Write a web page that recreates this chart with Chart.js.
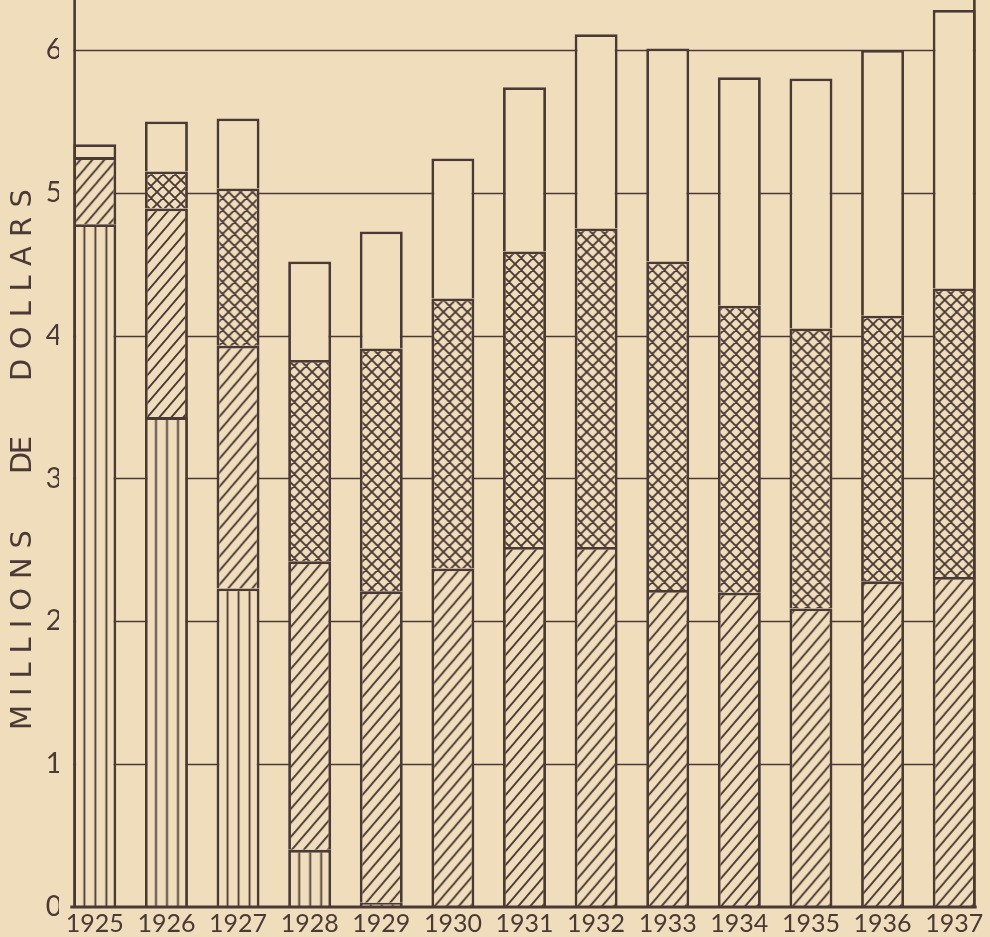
<!DOCTYPE html>
<html>
<head>
<meta charset="utf-8">
<script src="https://cdn.jsdelivr.net/npm/chart.js@4"></script>
<style>
  html, body { margin: 0; padding: 0; background: #f0ddbc; }
  canvas { display: block; }
</style>
</head>
<body>
<canvas id="chart" width="990" height="937"></canvas>
<script>
// years and the four stacked parts of each bar (millions de dollars), bottom to top
const years = ["1925", "1926", "1927", "1928", "1929", "1930", "1931", "1932", "1933", "1934", "1935", "1936", "1937"];
const verticalPart = [4.78, 3.43, 2.23, 0.40, 0.03, 0, 0, 0, 0, 0, 0, 0, 0];
const diagonalPart = [0.47, 1.46, 1.70, 2.02, 2.18, 2.37, 2.52, 2.52, 2.22, 2.20, 2.09, 2.28, 2.31];
const crossPart = [0, 0.26, 1.10, 1.41, 1.70, 1.89, 2.07, 2.23, 2.30, 2.01, 1.96, 1.86, 2.02];
const blankPart = [0.09, 0.35, 0.49, 0.69, 0.82, 0.98, 1.15, 1.36, 1.49, 1.60, 1.75, 1.86, 1.95];
const yTicks = [0, 1, 2, 3, 4, 5, 6];
const titleWords = ["MILLIONS", "DE", "DOLLARS"];

const paper = "#f0ddbc";
const ink = "#4a3935";
const barPct = 0.6;

// small tiles for the hatchings
function makeTile(kind) {
  const w = kind === "vertical" ? 11 : 12;
  const h = kind === "vertical" ? 11 : kind === "diagonal" ? 14 : 12;
  const c = document.createElement("canvas");
  c.width = w; c.height = h;
  const g = c.getContext("2d");
  g.fillStyle = paper;
  g.fillRect(0, 0, w, h);
  g.strokeStyle = ink;
  g.lineWidth = kind === "cross" ? 1.9 : 1.8;
  g.beginPath();
  if (kind === "vertical") {
    g.moveTo(5.5, 0); g.lineTo(5.5, h);
  } else {
    g.moveTo(-w * 0.1, h * 1.1); g.lineTo(w * 1.1, -h * 0.1);
    g.moveTo(-w * 0.1, h * 0.1); g.lineTo(w * 0.1, -h * 0.1);
    g.moveTo(w * 0.9, h * 1.1); g.lineTo(w * 1.1, h * 0.9);
    if (kind === "cross") {
      g.moveTo(-w * 0.1, -h * 0.1); g.lineTo(w * 1.1, h * 1.1);
      g.moveTo(-w * 0.1, h * 0.9); g.lineTo(w * 0.1, h * 1.1);
      g.moveTo(w * 0.9, -h * 0.1); g.lineTo(w * 1.1, h * 0.1);
    }
  }
  g.stroke();
  return c;
}
const tiles = { vertical: makeTile("vertical"), diagonal: makeTile("diagonal"), cross: makeTile("cross") };

function barWidth(chart) {
  const x = chart.scales.x;
  return (x.getPixelForValue(1) - x.getPixelForValue(0)) * barPct;
}

// pattern anchored on each bar's left edge
function hatch(kind) {
  return (c) => {
    const chart = c.chart;
    if (c.type !== "data" || !chart.scales || !chart.scales.x) return paper;
    const x = chart.scales.x;
    const left = x.getPixelForValue(c.dataIndex) - barWidth(chart) / 2;
    const pat = chart.ctx.createPattern(tiles[kind], "repeat");
    const shift = kind === "vertical" ? left + 5.5 : left;
    pat.setTransform(new DOMMatrix().translate(shift, 0));
    return pat;
  };
}

function edges(chart) {
  const x = chart.scales.x;
  const half = barWidth(chart) / 2;
  return {
    left: x.getPixelForValue(0) - half,
    right: x.getPixelForValue(years.length - 1) + half
  };
}

const frame = {
  id: "frame",
  beforeDatasetsDraw(chart) {
    const { ctx, scales: { y } } = chart;
    const e = edges(chart);
    ctx.save();
    ctx.strokeStyle = ink;
    ctx.lineWidth = 1.7;
    yTicks.forEach((t) => {
      if (t === 0) return;
      const py = Math.round(y.getPixelForValue(t)) + 0.5;
      ctx.beginPath();
      ctx.moveTo(e.left, py);
      ctx.lineTo(e.right, py);
      ctx.stroke();
    });
    ctx.restore();
  },
  afterDatasetsDraw(chart) {
    const { ctx, chartArea, scales: { y } } = chart;
    const e = edges(chart);
    const y0 = y.getPixelForValue(0);
    ctx.save();
    ctx.strokeStyle = ink;
    ctx.lineWidth = 2.6;
    ctx.beginPath();
    ctx.moveTo(e.left + 1.3, chartArea.top);
    ctx.lineTo(e.left + 1.3, y0);
    ctx.moveTo(e.right - 1.3, chartArea.top);
    ctx.lineTo(e.right - 1.3, y0);
    ctx.stroke();
    ctx.lineWidth = 3.2;
    ctx.beginPath();
    ctx.moveTo(e.left - 3, y0);
    ctx.lineTo(e.right + 1, y0);
    ctx.stroke();
    ctx.restore();
  },
  afterDraw(chart) {
    // spaced vertical title
    const ctx = chart.ctx;
    const spots = [
      { word: titleWords[0], center: 630, span: 200 },
      { word: titleWords[1], center: 455, span: 38 },
      { word: titleWords[2], center: 285, span: 192 }
    ];
    ctx.save();
    ctx.fillStyle = ink;
    ctx.font = "29px 'DejaVu Sans'";
    ctx.textBaseline = "middle";
    ctx.textAlign = "left";
    spots.forEach((s) => {
      const letters = s.word.split("");
      const widths = letters.map((l) => ctx.measureText(l).width);
      const sum = widths.reduce((a, b) => a + b, 0);
      const gap = letters.length > 1 ? (s.span - sum) / (letters.length - 1) : 0;
      ctx.save();
      ctx.translate(23, s.center);
      ctx.rotate(-Math.PI / 2);
      let pos = -s.span / 2;
      letters.forEach((l, i) => {
        ctx.fillText(l, pos, 0);
        pos += widths[i] + gap;
      });
      ctx.restore();
    });
    ctx.restore();
  }
};

function part(label, data, kind) {
  return {
    label: label,
    data: data,
    backgroundColor: kind ? hatch(kind) : paper,
    borderColor: ink,
    borderWidth: 2.8,
    categoryPercentage: 1,
    barPercentage: barPct
  };
}

new Chart(document.getElementById("chart"), {
  type: "bar",
  data: {
    labels: years,
    datasets: [
      part("vertical", verticalPart, "vertical"),
      part("diagonal", diagonalPart, "diagonal"),
      part("cross", crossPart, "cross"),
      part("blank", blankPart, null)
    ]
  },
  options: {
    responsive: false,
    devicePixelRatio: 1,
    animation: false,
    layout: { padding: 0 },
    plugins: {
      legend: { display: false },
      tooltip: { enabled: false },
      title: { display: false }
    },
    scales: {
      x: {
        stacked: true,
        grid: { display: false, drawTicks: false, tickLength: 0 },
        border: { display: false },
        ticks: {
          color: ink,
          font: { family: "Lato", size: 25 },
          padding: 2,
          maxRotation: 0,
          autoSkip: false
        },
        afterFit(scale) {
          scale.height = 30;
          scale.paddingLeft = 0;
          scale.paddingRight = 0;
        }
      },
      y: {
        stacked: true,
        min: 0,
        max: 6.35,
        grid: { display: false, drawTicks: false, tickLength: 0 },
        border: { display: false },
        ticks: {
          stepSize: 1,
          includeBounds: false,
          color: ink,
          font: { family: "Lato", size: 28 },
          padding: -3,
          callback: (v) => (yTicks.includes(v) ? String(v) : "")
        },
        afterFit(scale) {
          scale.width = 59;
          scale.paddingTop = 0;
          scale.paddingBottom = 0;
        }
      }
    }
  },
  plugins: [frame]
});
</script>
</body>
</html>
